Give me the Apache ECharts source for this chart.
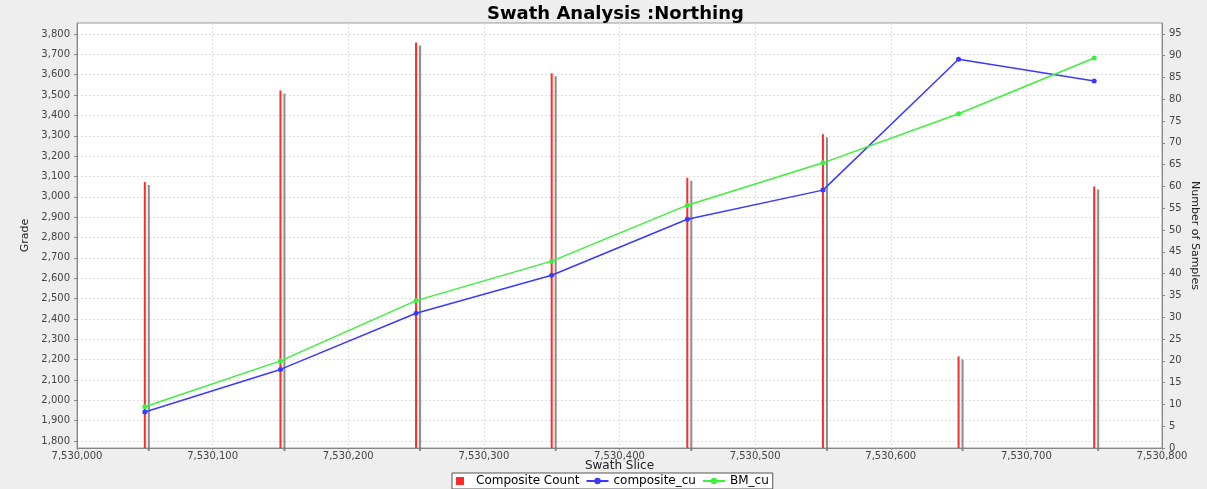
<!DOCTYPE html>
<html><head><meta charset="utf-8">
<script src="https://cdn.jsdelivr.net/npm/echarts@6/dist/echarts.min.js"></script>
<style>html,body{margin:0;padding:0;background:#eeeeee}#c{width:1207px;height:489px}</style>
</head><body><div id="c"></div>
<script>
// ---- data ----
const swathSlices = [7530050, 7530150, 7530250, 7530350, 7530450, 7530550, 7530650, 7530750];
const compositeCount = [61, 82, 93, 86, 62, 72, 21, 60];
const compositeCu = [1943, 2152, 2428, 2615, 2890, 3033, 3676, 3569];
const bmCu = [1969, 2194, 2490, 2684, 2959, 3167, 3408, 3682];
const xTicks = [7530000, 7530100, 7530200, 7530300, 7530400, 7530500, 7530600, 7530700, 7530800];
const gradeTicks = [1800, 1900, 2000, 2100, 2200, 2300, 2400, 2500, 2600, 2700, 2800, 2900, 3000, 3100, 3200, 3300, 3400, 3500, 3600, 3700, 3800];
const countTicks = [0, 5, 10, 15, 20, 25, 30, 35, 40, 45, 50, 55, 60, 65, 70, 75, 80, 85, 90, 95];

const fmt = v => Math.round(v).toLocaleString('en-US');
const FONT = 'DejaVu Sans';
const labelStyle = {fontFamily: FONT, fontSize: 10, color: '#444'};
const gridLine = {show: true, lineStyle: {color: '#dedede', type: [2, 2], width: 1}};

const chart = echarts.init(document.getElementById('c'), null, {renderer: 'canvas'});
chart.setOption({
  animation: false,
  backgroundColor: '#eeeeee',
  title: {
    text: 'Swath Analysis :Northing', left: 482, top: 0,
    textStyle: {fontFamily: FONT, fontSize: 18, fontWeight: 'bold', color: '#000'}
  },
  legend: {
    left: 452, top: 473,
    backgroundColor: '#ffffff', borderColor: '#555', borderWidth: 1,
    padding: [2, 4], itemGap: 6, itemWidth: 22, itemHeight: 8,
    textStyle: {fontFamily: FONT, fontSize: 12, color: '#000'},
    data: [
      {name: 'Composite Count', icon: 'path://M0,0h10v10h-10z'},
      {name: 'composite_cu'},
      {name: 'BM_cu'}
    ]
  },
  grid: {
    left: 77, right: 45, top: 23, bottom: 41,
    outerBoundsMode: 'none', containLabel: false,
    show: true, backgroundColor: '#ffffff', borderColor: '#999', borderWidth: 1
  },
  xAxis: {
    type: 'value', min: 7530000, max: 7530800, interval: 100,
    name: 'Swath Slice', nameLocation: 'middle', nameGap: 12, nameMoveOverlap: false,
    nameTextStyle: {fontFamily: FONT, fontSize: 12, color: '#222'},
    axisLine: {show: true, lineStyle: {color: '#888'}},
    axisTick: {show: true, length: 2, lineStyle: {color: '#888'}},
    axisLabel: Object.assign({margin: 3, formatter: fmt, customValues: xTicks}, labelStyle),
    splitLine: gridLine
  },
  yAxis: [
    {
      type: 'value', min: 1766, max: 3854, position: 'left',
      name: 'Grade', nameLocation: 'middle', nameGap: 46, nameMoveOverlap: false,
      nameTextStyle: {fontFamily: FONT, fontSize: 11, color: '#222'},
      axisLine: {show: true, lineStyle: {color: '#888'}},
      axisTick: {show: true, length: 3, customValues: gradeTicks, lineStyle: {color: '#888'}},
      axisLabel: Object.assign({margin: 7, formatter: fmt, customValues: gradeTicks}, labelStyle),
      splitLine: gridLine
    },
    {
      type: 'value', min: 0, max: 97.5, position: 'right',
      name: 'Number of Samples', nameLocation: 'middle', nameGap: 27, nameRotate: -90, nameMoveOverlap: false,
      nameTextStyle: {fontFamily: FONT, fontSize: 11, color: '#222'},
      axisLine: {show: true, lineStyle: {color: '#888'}},
      axisTick: {show: true, length: 3, customValues: countTicks, lineStyle: {color: '#888'}},
      axisLabel: Object.assign({margin: 7, customValues: countTicks}, labelStyle),
      splitLine: {show: false}
    }
  ],
  series: [
    {
      name: 'Composite Count', type: 'bar', xAxisIndex: 0, yAxisIndex: 1,
      barWidth: 2, z: 1,
      itemStyle: {color: '#ff2a2a', shadowColor: 'rgba(120,120,120,0.85)', shadowOffsetX: 4, shadowOffsetY: 3, shadowBlur: 0},
      data: swathSlices.map((x, i) => [x, compositeCount[i]])
    },
    {
      name: 'composite_cu', type: 'line', xAxisIndex: 0, yAxisIndex: 0, z: 3,
      symbol: 'circle', symbolSize: 5, showAllSymbol: true,
      itemStyle: {color: '#3a3aff'}, lineStyle: {color: '#3a3aff', width: 1.5},
      data: swathSlices.map((x, i) => [x, compositeCu[i]])
    },
    {
      name: 'BM_cu', type: 'line', xAxisIndex: 0, yAxisIndex: 0, z: 4,
      symbol: 'circle', symbolSize: 5, showAllSymbol: true,
      itemStyle: {color: '#3cf03c'}, lineStyle: {color: '#3cf03c', width: 1.5},
      data: swathSlices.map((x, i) => [x, bmCu[i]])
    }
  ]
});
</script>
</body></html>
